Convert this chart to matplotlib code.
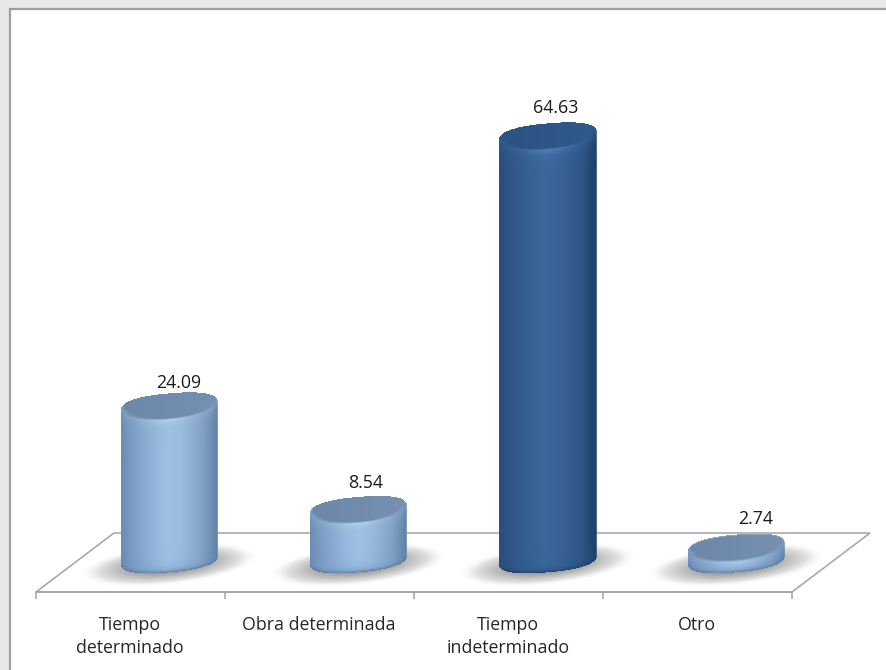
import numpy as np
import matplotlib
matplotlib.use("Agg")
import matplotlib.pyplot as plt
from matplotlib.colors import to_rgb
from matplotlib.patches import Rectangle, Polygon

categories = ["Tiempo\ndeterminado", "Obra determinada", "Tiempo\nindeterminado", "Otro"]
values = [24.09, 8.54, 64.63, 2.74]
value_labels = ["24.09", "8.54", "64.63", "2.74"]
highlighted = [False, False, True, False]

W, H = 886, 670
plt.rcParams["font.family"] = ["Open Sans", "DejaVu Sans"]
fig = plt.figure(figsize=(W / 100, H / 100), dpi=100, facecolor="#e9e8e6")

# page panel and floor, in pixel coordinates
bg = fig.add_axes([0, 0, 1, 1], zorder=0)
bg.set_xlim(0, W); bg.set_ylim(H, 0); bg.axis("off")
bg.add_patch(Rectangle((10, 9), W, H, fc="white", ec="#9b9ea1", lw=1.6))
FLOOR = "#a3a3a3"
bg.add_patch(Polygon([(36, 592), (114, 533), (870, 533), (792, 592)], closed=True,
                     fc="none", ec=FLOOR, lw=1.1))

# chart axes: front floor edge is the category axis
y0_px, scale = 566.4, 6.66
x_l, x_r, y_b, y_t = 35.5, 791.5, 592.0, 10.0
ax = fig.add_axes([x_l / W, 1 - y_b / H, (x_r - x_l) / W, (y_b - y_t) / H], zorder=1)
ax.patch.set_alpha(0)
ylim = ((y0_px - y_b) / scale, (y0_px - y_t) / scale)
xlim = (-0.5, 3.5)
for s in ["left", "right", "top"]:
    ax.spines[s].set_visible(False)
ax.spines["bottom"].set_color(FLOOR)
ax.spines["bottom"].set_linewidth(1.1)
ax.yaxis.set_visible(False)
ax.set_xticks(range(len(categories)), categories, fontsize=12.8, color="#262626", linespacing=1.38)
ax.set_xticks(np.arange(-0.5, len(categories)), minor=True)
ax.tick_params(axis="x", which="major", length=0, pad=17)
ax.tick_params(axis="x", which="minor", length=5, width=1.1, color=FLOOR)
ax.set_xlim(*xlim); ax.set_ylim(*ylim)

DEPTH_X = 0.208      # perspective shift of the bars from the axis labels
BASE = 1.0           # bottom ellipse centre in value units
RX, RY, SLOPE = 48.5, 12.6, 0.085
P = 2.4              # shoulder fullness of the outline

LIGHT = dict(stops=["#6a8ab0", "#80a1c7", "#9fc0e4", "#9dbee2", "#82a1c6", "#5f7ea4"],
             top="#6c87a8", top2="#7590b0", hi="#b8d6f0", rim="#8fadd0", low="#6f92bd", edge="#4d6f97")
DARK = dict(stops=["#274c7b", "#315889", "#3c679b", "#3a6599", "#2e5586", "#1b3d68"],
            top="#2b5383", top2="#2f5a8c", hi="#5485ba", rim="#37639a", low="#2a5385", edge="#173a66")
U_STOPS = [-1, -0.7, -0.1, 0.2, 0.7, 1]


def rgb(c):
    return np.array(to_rgb(c))


def smooth_profile(stops):
    grid = np.linspace(-1.4, 1.4, 561)
    cols = np.array([to_rgb(c) for c in stops])
    kernel = np.hanning(81); kernel /= kernel.sum()
    out = []
    for k in range(3):
        line = np.interp(grid, U_STOPS, cols[:, k])
        out.append(np.convolve(np.pad(line, 40, mode="edge"), kernel, mode="valid"))
    return grid, np.array(out)


def draw_image(rgba, x0_px, x1_px, y0p, y1p, zorder):
    # pixel box -> data extent through the axes' own transform
    inv = ax.transData.inverted()
    (a, b) = inv.transform((x0_px, H - y1p))
    (c, d) = inv.transform((x1_px, H - y0p))
    ax.imshow(rgba, extent=(a, c, b, d), origin="upper", aspect="auto", zorder=zorder,
              interpolation="bilinear", clip_on=False)


def draw_shadow(cx, cy):
    xs = np.arange(int(cx) - 110, int(cx) + 110)
    ys = np.arange(int(cy) - 36, int(cy) + 36)
    X, Y = np.meshgrid(xs + 0.5, ys + 0.5)
    Yp = Y + 0.1 * (X - cx)
    r = np.sqrt(((X - cx) / 88) ** 2 + ((Yp - cy) / 20) ** 2)
    alpha = 0.8 * np.exp(-(r / 0.72) ** 2.6) * np.clip((1 - r) / 0.2, 0, 1)
    img = np.zeros(X.shape + (4,))
    img[..., :3] = 0.42
    img[..., 3] = alpha
    draw_image(img, xs[0], xs[-1] + 1, ys[0], ys[-1] + 1, 2)


def draw_cylinder(cx, yt, yb, st):
    xs = np.arange(int(cx - RX - 2), int(cx + RX + 3))
    ys = np.arange(int(yt - RY - 10), int(yb + RY + 10))
    X, Y = np.meshgrid(xs + 0.5, ys + 0.5)
    u = (X - cx) / RX
    Yp = Y + SLOPE * (X - cx)              # shear removes the ellipse tilt
    uc = np.clip(np.abs(u), 0, 1)
    arc = (1 - uc ** P) ** (1 / P) * RY
    grid, prof = smooth_profile(st["stops"])
    side = np.stack([np.interp(u, grid, prof[k]) for k in range(3)], -1)

    # top face: reaches the outline above, stops short of it on the front
    frx, fry, fyc = RX - 2.5, RY + 0.6, yt + 0.4
    uf = (X - cx) / frx
    farc = np.sqrt(np.clip(1 - uf ** 2, 0, 1)) * fry
    # highlight on the shoulder under the face
    d = Yp - (fyc + farc)
    glow = np.exp(-np.clip(d, 0, None) / 4.5) * np.exp(-(u / 0.45) ** 2) * 0.85
    shoulder = np.exp(-np.clip(d, 0, None) / 7)[..., None] * 0.5
    side = side * (1 - shoulder) + rgb(st["rim"]) * shoulder
    side = side * (1 - glow[..., None]) + rgb(st["hi"]) * glow[..., None]
    # bottom rim: broad and thin darkening
    d2 = (yb + arc) - Yp
    low = np.exp(-np.clip(d2, 0, None) / 6)[..., None] * 0.45
    side = side * (1 - low) + rgb(st["low"]) * low
    thin = np.exp(-np.clip(d2, 0, None) / 1.6)[..., None] * 0.8
    side = side * (1 - thin) + rgb(st["edge"]) * thin
    img = side.copy()

    t = np.sqrt(uf ** 2 + ((Yp - fyc) / fry) ** 2)
    mix = np.clip((t - 0.88) / 0.14, 0, 1)
    mix[Yp < fyc] = np.clip((np.abs(uf[Yp < fyc]) - 0.97) / 0.05, 0, 1)
    mix = mix[..., None]
    w = (u[..., None] + 1) / 2
    face = rgb(st["top"]) * (1 - w) + rgb(st["top2"]) * w
    img = face * (1 - mix) + img * mix

    # soft-edged outline
    inside = (np.abs(u) <= 1) & (Yp >= yt - arc) & (Yp <= yb + arc)
    a = inside.astype(float)
    a *= np.clip(RX - np.abs(X - cx) + 0.5, 0, 1)
    rgba = np.dstack([np.clip(img, 0, 1), a])
    draw_image(rgba, xs[0], xs[-1] + 1, ys[0], ys[-1] + 1, 3)


label_shift_px = [(9, 23), (7, 27), (8, 28), (19, 29)]

for i, v in enumerate(values):
    px_top = ax.transData.transform((i + DEPTH_X, v))
    px_base = ax.transData.transform((i + DEPTH_X, BASE))
    cx = px_top[0]
    yt, yb = H - px_top[1], H - px_base[1]
    draw_shadow(cx, yb + 5)
    draw_cylinder(cx, yt, yb, DARK if highlighted[i] else LIGHT)
    dx, dy = label_shift_px[i]
    ax.annotate(value_labels[i], (i + DEPTH_X, v), xytext=(dx * 0.72, dy * 0.72),
                textcoords="offset points", ha="center", va="center",
                fontsize=12.8, color="#1a1a1a", zorder=5, annotation_clip=False)

ax.set_xlim(*xlim); ax.set_ylim(*ylim)
fig.savefig("out.png", dpi=100, facecolor=fig.get_facecolor())
